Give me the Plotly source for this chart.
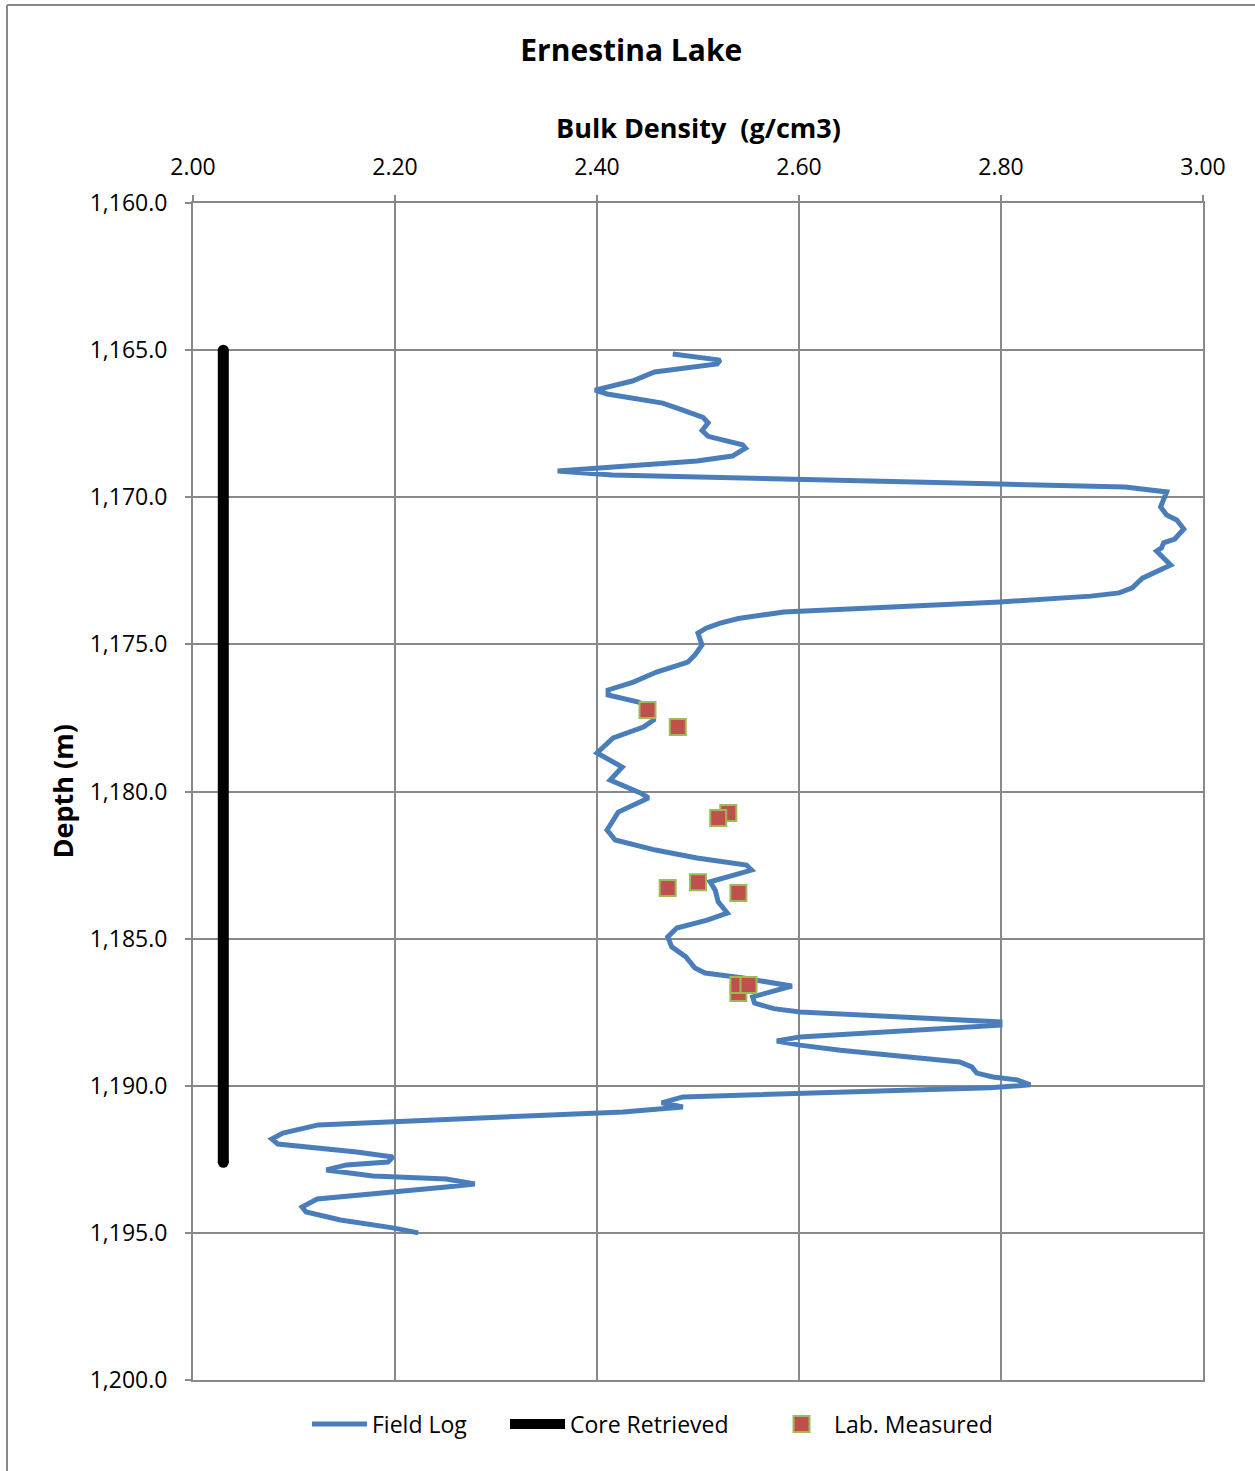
import plotly.graph_objects as go

# Field log: depth (m) and bulk density (g/cm3)
log_depth = [
    1165.13, 1165.34, 1165.47, 1165.74, 1166.05, 1166.36, 1166.49, 1166.80, 1167.04, 1167.29,
    1167.47, 1167.73, 1167.93, 1168.22, 1168.33, 1168.60, 1168.77, 1169.11, 1169.24, 1169.41,
    1169.55, 1169.65, 1169.82, 1170.33, 1170.60, 1170.77, 1171.08, 1171.42, 1171.55, 1171.72,
    1171.83, 1172.30, 1172.58, 1172.75, 1173.08, 1173.25, 1173.36, 1173.56, 1173.90, 1174.12,
    1174.28, 1174.45, 1174.62, 1175.02, 1175.36, 1175.60, 1175.94, 1176.28, 1176.55, 1176.72,
    1176.96, 1177.20, 1177.57, 1177.81, 1178.18, 1178.69, 1179.17, 1179.61, 1180.05, 1180.22,
    1180.70, 1181.31, 1181.65, 1181.99, 1182.26, 1182.50, 1182.67, 1183.07, 1183.35, 1183.75,
    1184.13, 1184.37, 1184.64, 1184.94, 1185.28, 1185.62, 1186.00, 1186.17, 1186.34, 1186.61,
    1186.98, 1187.19, 1187.38, 1187.49, 1187.83, 1187.94, 1188.34, 1188.48, 1188.62, 1188.79,
    1189.19, 1189.36, 1189.57, 1189.70, 1189.80, 1189.97, 1190.07, 1190.24, 1190.38, 1190.58,
    1190.72, 1190.89, 1191.20, 1191.33, 1191.61, 1191.81, 1191.98, 1192.25, 1192.42, 1192.59,
    1192.69, 1192.86, 1193.07, 1193.17, 1193.34, 1193.44, 1193.85, 1194.12, 1194.29, 1194.56,
    1194.83, 1195.00,
]
log_density = [
    2.475, 2.522, 2.519, 2.457, 2.435, 2.398, 2.410, 2.465, 2.485, 2.505,
    2.510, 2.504, 2.510, 2.544, 2.547, 2.534, 2.499, 2.361, 2.415, 2.601,
    2.799, 2.923, 2.964, 2.958, 2.964, 2.974, 2.981, 2.972, 2.961, 2.959,
    2.954, 2.968, 2.949, 2.940, 2.930, 2.917, 2.889, 2.799, 2.585, 2.540,
    2.522, 2.508, 2.500, 2.504, 2.497, 2.490, 2.459, 2.436, 2.411, 2.411,
    2.441, 2.455, 2.456, 2.446, 2.416, 2.400, 2.425, 2.413, 2.443, 2.451,
    2.421, 2.410, 2.418, 2.458, 2.499, 2.548, 2.553, 2.512, 2.517, 2.520,
    2.529, 2.509, 2.479, 2.470, 2.474, 2.488, 2.497, 2.507, 2.545, 2.593,
    2.554, 2.556, 2.575, 2.601, 2.799, 2.799, 2.601, 2.578, 2.601, 2.641,
    2.759, 2.771, 2.776, 2.792, 2.816, 2.829, 2.789, 2.601, 2.485, 2.464,
    2.485, 2.426, 2.200, 2.124, 2.089, 2.078, 2.084, 2.162, 2.198, 2.193,
    2.152, 2.132, 2.178, 2.251, 2.279, 2.251, 2.123, 2.108, 2.112, 2.146,
    2.198, 2.223,
]

# Cored interval
core_density = [2.03, 2.03]
core_depth = [1165.0, 1192.6]

# Laboratory measurements
lab_depth = [1177.23, 1177.81, 1180.73, 1180.90, 1183.08, 1183.28, 1183.45, 1186.85, 1186.58, 1186.58]
lab_density = [2.45, 2.48, 2.53, 2.52, 2.50, 2.47, 2.54, 2.54, 2.54, 2.55]

x_ticks = [2.0, 2.2, 2.4, 2.6, 2.8, 3.0]
y_ticks = [1160, 1165, 1170, 1175, 1180, 1185, 1190, 1195, 1200]

FONT = "Open Sans"
GRID = "#898989"

# plot area in pixels
L, R, T, B = 193, 1203, 203, 1380
W_PX, H_PX = R - L, B - T


def px_x(px):
    return (px - L) / W_PX


def px_y(py):
    return (B - py) / H_PX


fig = go.Figure()

fig.add_trace(go.Scatter(
    x=log_density, y=log_depth, mode="lines", name="Field Log", legend="legend",
    line=dict(color="#4A7EBB", width=5),
))
fig.add_trace(go.Scatter(
    x=core_density, y=core_depth, mode="lines", name="Core Retrieved", legend="legend2",
    line=dict(color="black", width=11),
))
# rounded ends of the core bar
fig.add_trace(go.Scatter(
    x=core_density, y=core_depth, mode="markers", showlegend=False, hoverinfo="skip",
    marker=dict(symbol="circle", size=11, color="black"),
))
fig.add_trace(go.Scatter(
    x=lab_density, y=lab_depth, mode="markers", name="Lab. Measured", legend="legend3",
    marker=dict(symbol="square", size=16, color="#C0504D",
                line=dict(color="#9BBB59", width=2)),
))

leg_font = dict(family=FONT, size=23, color="black")
leg_common = dict(orientation="h", yanchor="middle", y=px_y(1424), xanchor="left",
                  font=leg_font, itemwidth=55, bgcolor="rgba(0,0,0,0)")

fig.update_layout(
    width=1255, height=1471,
    margin=dict(l=L, r=1255 - R, t=T, b=1471 - B),
    paper_bgcolor="white", plot_bgcolor="white",
    font=dict(family=FONT, color="black", size=23),
    title=dict(text="<b>Ernestina Lake</b>", x=0.503, xanchor="center",
               y=1 - 50 / 1471, yanchor="middle",
               font=dict(family=FONT, size=30, color="black")),
    showlegend=True,
    legend=dict(x=px_x(307), **leg_common),
    legend2=dict(x=px_x(505), **leg_common),
    legend3=dict(x=px_x(769), **leg_common),
    xaxis=dict(
        side="top", range=[2.0, 3.0], tickvals=x_ticks, tickformat=".2f",
        showgrid=True, gridcolor=GRID, gridwidth=2,
        showline=True, linecolor=GRID, linewidth=2, mirror=True,
        ticks="outside", ticklen=6, tickcolor=GRID, tickwidth=2,
        ticklabelstandoff=11, zeroline=False,
        tickfont=dict(family=FONT, size=23, color="black"),
    ),
    yaxis=dict(
        range=[1200, 1160], tickvals=y_ticks, tickformat=",.1f",
        showgrid=True, gridcolor=GRID, gridwidth=2,
        showline=True, linecolor=GRID, linewidth=2, mirror=True,
        ticks="outside", ticklen=6, tickcolor=GRID, tickwidth=2,
        ticklabelstandoff=13, zeroline=False,
        tickfont=dict(family=FONT, size=23, color="black"),
    ),
    annotations=[
        dict(text="<b>Bulk Density\u00a0 (g/cm3)</b>", xref="paper", yref="paper",
             x=0.5, y=px_y(128), xanchor="center", yanchor="middle",
             showarrow=False, font=dict(family=FONT, size=27, color="black")),
        dict(text="<b>Depth (m)</b>", xref="paper", yref="paper",
             x=px_x(62), y=0.5, xanchor="center", yanchor="middle",
             textangle=-90, showarrow=False,
             font=dict(family=FONT, size=27, color="black")),
    ],
    shapes=[
        dict(type="line", xref="paper", yref="paper",
             x0=px_x(7), x1=1.06, y0=px_y(5), y1=px_y(5),
             line=dict(color=GRID, width=2)),
        dict(type="line", xref="paper", yref="paper",
             x0=px_x(7), x1=px_x(7), y0=px_y(5), y1=-0.09,
             line=dict(color=GRID, width=2)),
    ],
)

fig.write_html("out.html")
